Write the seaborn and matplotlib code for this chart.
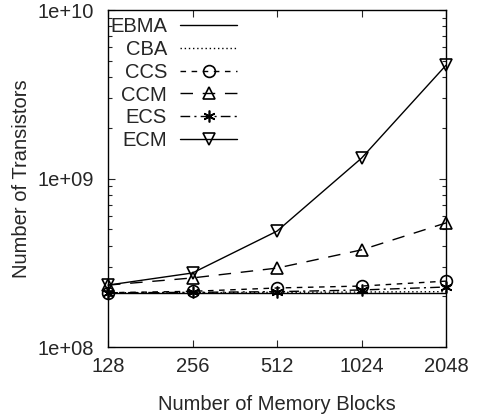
import numpy as np
import pandas as pd
import matplotlib
matplotlib.use("Agg")
import matplotlib.pyplot as plt
import seaborn as sns
from matplotlib.ticker import FixedLocator, LogLocator, NullFormatter

blocks = [128, 256, 512, 1024, 2048]
ebma = [2.09e8, 2.09e8, 2.09e8, 2.09e8, 2.09e8]
cba = [2.10e8, 2.10e8, 2.11e8, 2.12e8, 2.13e8]
ccs = [2.10e8, 2.14e8, 2.24e8, 2.30e8, 2.46e8]
ccm = [2.33e8, 2.57e8, 2.94e8, 3.77e8, 5.45e8]
ecs = [2.10e8, 2.11e8, 2.13e8, 2.18e8, 2.27e8]
ecm = [2.33e8, 2.75e8, 4.87e8, 1.32e9, 4.70e9]

names = ["EBMA", "CBA", "CCS", "CCM", "ECS", "ECM"]
series = [ebma, cba, ccs, ccm, ecs, ecm]

df = pd.DataFrame({
    "blocks": blocks * len(names),
    "transistors": [v for s in series for v in s],
    "method": [n for n in names for _ in blocks],
})

sns.set_style("ticks")
plt.rcParams["font.family"] = ["Liberation Sans", "DejaVu Sans"]

styles = {
    "EBMA": dict(linestyle="-", marker=None),
    "CBA": dict(linestyle=(0, (1, 2)), marker=None),
    "CCS": dict(linestyle=(0, (4, 4)), marker="o"),
    "CCM": dict(linestyle=(0, (9, 7)), marker="^"),
    "ECS": dict(linestyle=(0, (7, 3, 1.5, 3)), marker=(6, 2, 0)),
    "ECM": dict(linestyle="-", marker="v"),
}

fig = plt.figure(figsize=(4.81, 4.15), dpi=100)
ax = fig.add_axes([108 / 481, 1 - 347 / 415, (446 - 108) / 481, (347 - 10) / 415])

for n in names:
    st = styles[n]
    sub = df[df["method"] == n]
    sns.lineplot(data=sub, x="blocks", y="transistors", ax=ax, color="black",
                 linewidth=1.0, linestyle=st["linestyle"], marker=st["marker"],
                 markersize=8.5, markerfacecolor="none", markeredgecolor="black",
                 markeredgewidth=1.2, label=n, clip_on=False, legend=False)

ax.set_xscale("log", base=2)
ax.set_yscale("log")
ax.set_xlim(128, 2048)
ax.set_ylim(1e8, 1e10)
ax.xaxis.set_major_locator(FixedLocator(blocks))
ax.xaxis.set_minor_locator(FixedLocator([]))
ax.set_xticklabels([str(b) for b in blocks])
ax.yaxis.set_major_locator(FixedLocator([1e8, 1e9, 1e10]))
ax.set_yticklabels(["1e+08", "1e+09", "1e+10"])
ax.yaxis.set_minor_locator(LogLocator(base=10, subs=np.arange(2, 10)))
ax.yaxis.set_minor_formatter(NullFormatter())

ax.tick_params(which="both", direction="in", top=True, right=True, labelsize=14.5, width=0.8)
ax.tick_params(which="major", length=5)
ax.tick_params(which="minor", length=3)
ax.tick_params(axis="y", which="major", pad=10)
ax.tick_params(axis="x", which="major", pad=7)
for sp in ax.spines.values():
    sp.set_linewidth(1.0)
    sp.set_color("black")

ax.set_xlabel("Number of Memory Blocks", fontsize=14.5, labelpad=14)
ax.set_ylabel("Number of Transistors", fontsize=14.5, labelpad=5)

ax.legend(loc="upper left", bbox_to_anchor=(0.0, 0.985), markerfirst=False, frameon=False,
          fontsize=14.5, handlelength=2.85, handletextpad=0.65, labelspacing=0.19,
          borderpad=0.1, borderaxespad=0.0)

fig.savefig("out.png", dpi=100)
